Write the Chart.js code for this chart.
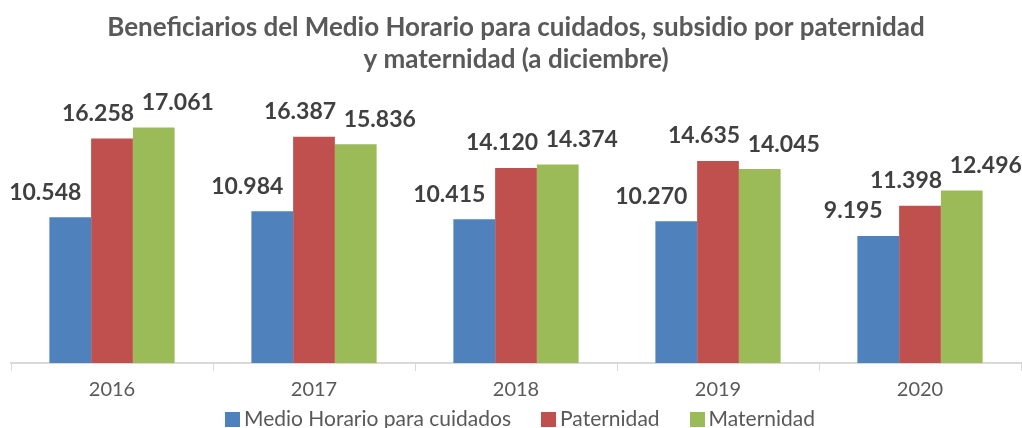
<!DOCTYPE html>
<html>
<head>
<meta charset="utf-8">
<script src="https://cdn.jsdelivr.net/npm/chart.js@4"></script>
<style>
  html, body { margin: 0; padding: 0; background: #fff; }
  #wrap { position: relative; width: 1022px; height: 428px; }
  #legend { position: absolute; left: 18px; right: 0; top: 405px; height: 26px;
            display: flex; justify-content: center; align-items: center;
            font: 21px Lato; color: #595959; line-height: 26px; }
  #legend span.item { display: flex; align-items: center; margin: 0 15px; }
  #legend i { display: inline-block; width: 15px; height: 15px; margin-right: 4px; margin-top: 3px; }
</style>
</head>
<body>
<div id="wrap"><canvas id="myCanvas"></canvas><div id="legend"></div></div>
<script>
var years = ['2016', '2017', '2018', '2019', '2020'];
var medioHorario = [10548, 10984, 10415, 10270, 9195];
var paternidad = [16258, 16387, 14120, 14635, 11398];
var maternidad = [17061, 15836, 14374, 14045, 12496];
var seriesNames = ['Medio Horario para cuidados', 'Paternidad', 'Maternidad'];
var colors = ['#4F81BD', '#C0504D', '#9BBB59'];

// etiquetas de valor encima de cada barra (formato 10.548)
var valueLabels = {
    id: 'valueLabels',
    afterDatasetsDraw: function (chart) {
        var ctx = chart.ctx;
        var shift = [-25, -14, 24];
        ctx.save();
        ctx.font = 'bold 23px Lato';
        ctx.fillStyle = '#404040';
        ctx.textAlign = 'center';
        ctx.textBaseline = 'middle';
        chart.data.datasets.forEach(function (ds, i) {
            chart.getDatasetMeta(i).data.forEach(function (bar, j) {
                var txt = ds.data[j].toLocaleString('de-DE');
                ctx.fillText(txt, bar.x + shift[i], bar.y - 25);
            });
        });
        ctx.restore();
    }
};

var chartdata = {
    labels: years,
    datasets: [
        { label: seriesNames[0], data: medioHorario, backgroundColor: colors[0] },
        { label: seriesNames[1], data: paternidad, backgroundColor: colors[1] },
        { label: seriesNames[2], data: maternidad, backgroundColor: colors[2] }
    ]
};

var ctx = document.getElementById('myCanvas');
var barGraph = new Chart(ctx, {
    type: 'bar',
    data: chartdata,
    plugins: [valueLabels],
    options: {
        responsive: true,
        maintainAspectRatio: false,
        animation: false,
        layout: { padding: { left: 11, right: 1, top: 0, bottom: 19 } },
        datasets: { bar: { categoryPercentage: 0.62, barPercentage: 1 } },
        plugins: {
            title: {
                display: true,
                text: ['Beneficiarios del Medio Horario para cuidados, subsidio por paternidad', 'y maternidad (a diciembre)'],
                color: '#595959',
                font: { family: 'Lato', size: 26, weight: 'bold', lineHeight: 1.23 },
                padding: { top: 12, bottom: 4 }
            },
            legend: { display: false },
            tooltip: { enabled: false }
        },
        scales: {
            x: {
                grid: {
                    offset: true,
                    drawOnChartArea: false,
                    drawTicks: true,
                    tickLength: 8,
                    color: '#d9d9d9'
                },
                border: { color: '#d9d9d9', width: 2 },
                ticks: { color: '#595959', font: { family: 'Lato', size: 20 }, padding: 7 }
            },
            y: {
                display: false,
                min: 0,
                max: 20500
            }
        }
    }
});

// leyenda inferior
var legendBox = document.getElementById('legend');
chartdata.datasets.forEach(function (ds) {
    var item = document.createElement('span');
    item.className = 'item';
    var sw = document.createElement('i');
    sw.style.background = ds.backgroundColor;
    item.appendChild(sw);
    item.appendChild(document.createTextNode(ds.label));
    legendBox.appendChild(item);
});
</script>
</body>
</html>
